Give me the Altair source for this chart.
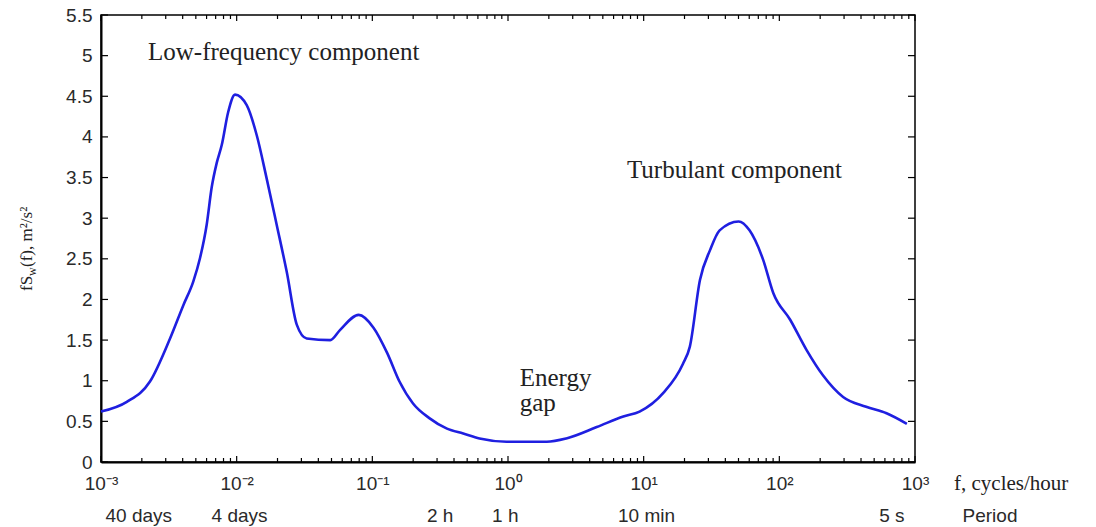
import altair as alt
import pandas as pd

# ---- data ----
freq = [0.001, 0.00155, 0.002296, 0.003228, 0.004046, 0.004786, 0.00537, 0.006012, 0.006546, 0.007129,
        0.007762, 0.00867, 0.009727, 0.01186, 0.01406, 0.01663, 0.01972, 0.02339, 0.02773, 0.03281,
        0.0490, 0.0575, 0.0794, 0.1023, 0.1288, 0.1585, 0.1995, 0.263, 0.355, 0.468,
        0.617, 0.977, 1.93, 2.69, 4.51, 7.08, 9.33, 13.96, 19.5, 21.9,
        26.0, 30.9, 36.3, 50.1, 60.3, 75.9, 90.2, 120.2, 158.5, 208.9,
        295.1, 436.5, 616.6, 871.0]
power = [0.62, 0.74, 0.99, 1.52, 1.93, 2.22, 2.51, 2.92, 3.38, 3.68,
         3.90, 4.31, 4.52, 4.39, 4.02, 3.49, 2.92, 2.34, 1.69, 1.52,
         1.50, 1.62, 1.81, 1.65, 1.34, 0.99, 0.72, 0.54, 0.41, 0.35,
         0.29, 0.25, 0.25, 0.29, 0.43, 0.56, 0.62, 0.85, 1.21, 1.42,
         2.24, 2.61, 2.85, 2.96, 2.85, 2.49, 2.08, 1.75, 1.38, 1.07,
         0.80, 0.68, 0.60, 0.47]

x_major = [0.001, 0.01, 0.1, 1, 10, 100, 1000]
x_minor = [m * 10.0 ** k for k in range(-3, 3) for m in range(2, 10)]
y_ticks = [0, 0.5, 1, 1.5, 2, 2.5, 3, 3.5, 4, 4.5, 5, 5.5]

notes_text = ["Low-frequency component", "Turbulant component", "Energy", "gap"]
notes_x = [0.00222, 7.53, 1.22, 1.22]
notes_y = [5.04, 3.59, 1.03, 0.73]

period_text = ["40 days", "4 days", "2 h", "1 h", "10 min", "5 s"]
period_x = [0.0019, 0.0105, 0.316, 0.955, 10.5, 676]

W, H = 814, 447
SERIF = "Liberation Serif"
SANS = "Liberation Sans"

xs = alt.Scale(type="log", domain=[0.001, 1000])
ys = alt.Scale(domain=[0, 5.5])

curve_df = pd.DataFrame({"f": freq, "p": power})

label_expr = ("datum.value < 0.005 ? '10⁻³' : datum.value < 0.05 ? '10⁻²' : "
              "datum.value < 0.5 ? '10⁻¹' : datum.value < 5 ? '10⁰' : "
              "datum.value < 50 ? '10¹' : datum.value < 500 ? '10²' : '10³'")

curve = alt.Chart(curve_df).mark_line(
    color="#1f1fe0", strokeWidth=2.6, interpolate="monotone"
).encode(
    x=alt.X("f:Q", scale=xs, axis=alt.Axis(
        values=x_major, labelExpr=label_expr, ticks=False, grid=False,
        domainColor="black", domainWidth=2, labelFont=SANS, labelFontSize=19,
        labelColor="#2a2a2a", labelPadding=12, labelFlush=False, title=None)),
    y=alt.Y("p:Q", scale=ys, axis=alt.Axis(
        values=y_ticks, format="~g", ticks=False, grid=False, domainColor="black",
        domainWidth=2, labelFont=SANS, labelFontSize=19, labelColor="#2a2a2a",
        labelPadding=9, labelFlush=False, title=None)),
)

ydf = pd.DataFrame({"y": y_ticks})
yt_left = alt.Chart(ydf).mark_rule(color="black", strokeWidth=1.2).encode(
    y=alt.Y("y:Q", scale=ys), x=alt.value(0), x2=alt.value(7))
yt_right = alt.Chart(ydf).mark_rule(color="black", strokeWidth=1.2).encode(
    y=alt.Y("y:Q", scale=ys), x=alt.value(W - 7), x2=alt.value(W))

xmaj = pd.DataFrame({"x": x_major})
xmin = pd.DataFrame({"x": x_minor})
xt_major_b = alt.Chart(xmaj).mark_rule(color="black", strokeWidth=1.2).encode(
    x=alt.X("x:Q", scale=xs), y=alt.value(H), y2=alt.value(H - 6))
xt_major_t = alt.Chart(xmaj).mark_rule(color="black", strokeWidth=1.2).encode(
    x=alt.X("x:Q", scale=xs), y=alt.value(0), y2=alt.value(6))
xt_minor_b = alt.Chart(xmin).mark_rule(color="black", strokeWidth=1.2).encode(
    x=alt.X("x:Q", scale=xs), y=alt.value(H), y2=alt.value(H - 4))
xt_minor_t = alt.Chart(xmin).mark_rule(color="black", strokeWidth=1.2).encode(
    x=alt.X("x:Q", scale=xs), y=alt.value(0), y2=alt.value(4))

notes_df = pd.DataFrame({"t": notes_text, "x": notes_x, "y": notes_y})
notes = alt.Chart(notes_df).mark_text(
    font=SERIF, fontSize=25, align="left", baseline="middle", color="#222"
).encode(x=alt.X("x:Q", scale=xs), y=alt.Y("y:Q", scale=ys), text="t:N")

period_df = pd.DataFrame({"t": period_text, "x": period_x})
periods = alt.Chart(period_df).mark_text(
    font=SANS, fontSize=19, align="center", baseline="middle", color="#2a2a2a"
).encode(x=alt.X("x:Q", scale=xs), y=alt.value(501), text="t:N")

period_word = alt.Chart(pd.DataFrame({"t": ["Period"]})).mark_text(
    font=SANS, fontSize=19, align="center", baseline="middle", color="#2a2a2a"
).encode(x=alt.value(889), y=alt.value(501), text="t:N")

fcyc = alt.Chart(pd.DataFrame({"t": ["f, cycles/hour"]})).mark_text(
    font=SERIF, fontSize=21, align="left", baseline="middle", color="#222"
).encode(x=alt.value(853), y=alt.value(469), text="t:N")

# y-axis title built from pieces (fS_w(f), m²/s²), rotated
yt1 = alt.Chart(pd.DataFrame({"t": ["fS"]})).mark_text(
    font=SERIF, fontSize=17, align="left", baseline="middle", angle=270, color="#222"
).encode(x=alt.value(-74), y=alt.value(276), text="t:N")
yt2 = alt.Chart(pd.DataFrame({"t": ["w"]})).mark_text(
    font=SERIF, fontSize=12, align="left", baseline="middle", angle=270, color="#222"
).encode(x=alt.value(-69), y=alt.value(261), text="t:N")
yt3 = alt.Chart(pd.DataFrame({"t": ["(f), m²/s²"]})).mark_text(
    font=SERIF, fontSize=17, align="left", baseline="middle", angle=270, color="#222"
).encode(x=alt.value(-74), y=alt.value(252), text="t:N")

chart = alt.layer(
    curve, yt_left, yt_right, xt_major_b, xt_major_t, xt_minor_b, xt_minor_t,
    notes, periods, period_word, fcyc, yt1, yt2, yt3
).properties(
    width=W, height=H,
    autosize=alt.AutoSizeParams(type="none"),
    padding={"left": 101, "top": 15, "right": 181, "bottom": 65},
    background="white",
).configure_view(stroke="black", strokeWidth=1.5)

chart.save("out.html", embed_options={"renderer": "svg", "actions": False})
